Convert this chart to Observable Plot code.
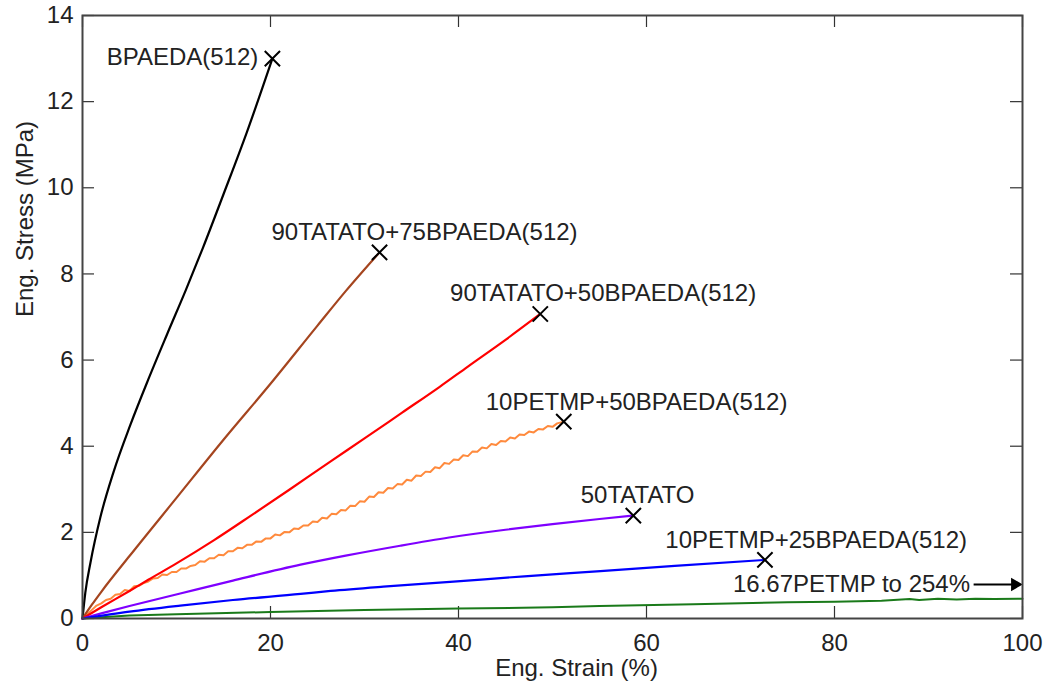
<!DOCTYPE html>
<html>
<head>
<meta charset="utf-8">
<script src="https://cdn.jsdelivr.net/npm/d3@7"></script>
<script src="https://cdn.jsdelivr.net/npm/@observablehq/plot@0.6"></script>
<style>
  html, body { margin: 0; padding: 0; background: #fff; }
  #chart svg { display: block; }
</style>
</head>
<body>
<div id="chart"></div>
<script>
// ---- data (strain %, stress MPa) ----
const bpaeda512 = [[0,0],[0.3,0.6],[0.85,1.3],[1.9,2.35],[3.3,3.4],[5.1,4.5],[7,5.55],[9,6.6],[11,7.63],[12.8,8.6],[15,9.85],[17.5,11.3],[20.2,13.0]];
const tatato90_bp75 = [[0,0],[1,0.32],[2,0.62],[5,1.45],[10,2.8],[15,4.15],[20,5.45],[25,6.8],[28,7.6],[31.6,8.5]];
const tatato90_bp50 = [[0,0],[2,0.26],[5,0.64],[7,0.9],[10,1.28],[14,1.82],[18,2.4],[22,2.99],[26.4,3.65],[30,4.18],[34,4.78],[38,5.38],[41,5.85],[45,6.47],[48.7,7.07]];
const petmp10_bp50 = [[0,0],[0.5,0.1],[1,0.2],[1.5,0.3],[2,0.35],[2.5,0.43],[3,0.46],[3.5,0.55],[4,0.57],[4.5,0.66],[5,0.64],[5.5,0.75],[6,0.76],[6.5,0.82],[7,0.86],[7.5,0.93],[8,0.94],[8.5,1.02],[9,1.01],[9.5,1.08],[10,1.08],[10.5,1.16],[11,1.16],[11.5,1.22],[12,1.24],[12.5,1.33],[13,1.32],[13.5,1.4],[14,1.4],[14.5,1.48],[15,1.47],[15.5,1.56],[16,1.56],[16.5,1.64],[17,1.63],[17.5,1.71],[18,1.71],[18.5,1.79],[19,1.78],[19.5,1.86],[20,1.86],[20.5,1.95],[21,1.93],[21.5,2.01],[22,2.0],[22.5,2.09],[23,2.08],[23.5,2.16],[24,2.16],[24.5,2.25],[25,2.24],[25.5,2.34],[26,2.32],[26.5,2.43],[27,2.42],[27.5,2.52],[28,2.51],[28.5,2.62],[29,2.61],[29.5,2.72],[30,2.71],[30.5,2.83],[31,2.82],[31.5,2.93],[32,2.92],[32.5,3.03],[33,3.02],[33.5,3.12],[34,3.11],[34.5,3.22],[35,3.2],[35.5,3.32],[36,3.31],[36.5,3.41],[37,3.4],[37.5,3.51],[38,3.49],[38.5,3.61],[39,3.59],[39.5,3.69],[40,3.68],[40.5,3.79],[41,3.77],[41.5,3.88],[42,3.87],[42.5,3.97],[43,3.95],[43.5,4.05],[44,4.03],[44.5,4.12],[45,4.11],[45.5,4.2],[46,4.18],[46.5,4.27],[47,4.26],[47.5,4.34],[48,4.32],[48.5,4.4],[49,4.39],[49.5,4.47],[50,4.45],[50.5,4.53],[51.2,4.57]];
const tatato50 = [[0,0],[2,0.12],[5,0.29],[10.4,0.58],[16,0.88],[23.2,1.25],[28,1.46],[33.8,1.69],[39,1.88],[45,2.06],[50,2.19],[55,2.31],[58.6,2.39]];
const petmp10_bp25 = [[0,0],[5,0.16],[10.4,0.3],[16,0.43],[23.2,0.57],[26.4,0.64],[32,0.74],[39.1,0.85],[47,0.98],[55.1,1.1],[63,1.22],[72.6,1.36]];
const petmp1667 = [[0,0],[2,0.03],[5,0.07],[10,0.1],[20,0.15],[30,0.2],[40,0.23],[50,0.26],[55,0.29],[65,0.33],[75,0.38],[80,0.39],[85,0.41],[88,0.45],[89,0.43],[91,0.46],[93,0.44],[95,0.46],[97,0.45],[100,0.46]];

const seriesNames = ["BPAEDA(512)","90TATATO+75BPAEDA(512)","90TATATO+50BPAEDA(512)","10PETMP+50BPAEDA(512)","50TATATO","10PETMP+25BPAEDA(512)","16.67PETMP"];
const seriesData = [bpaeda512, tatato90_bp75, tatato90_bp50, petmp10_bp50, tatato50, petmp10_bp25, petmp1667];
const seriesColors = ["#000000","#a5451f","#ff0000","#ff8a3d","#7f00ff","#0000ff","#1a7a1a"];
const smoothSeries = [true, true, true, false, true, true, false];

// failure points (X markers)
const breakStrain = [20.2, 31.6, 48.7, 51.2, 58.6, 72.6];
const breakStress = [13.0, 8.5, 7.07, 4.57, 2.39, 1.36];

// annotation labels
const labelText = ["BPAEDA(512)","90TATATO+75BPAEDA(512)","90TATATO+50BPAEDA(512)","10PETMP+50BPAEDA(512)","50TATATO","10PETMP+25BPAEDA(512)","16.67PETMP to 254%"];
const labelX = [18.7, 20.1, 39.1, 42.9, 53.0, 62.0, 69.2];
const labelY = [13.03, 8.96, 7.55, 5.02, 2.86, 1.81, 0.79];
const labelAnchor = ["end","start","start","start","start","start","start"];

const arrowFrom = [94.8, 0.79];
const arrowTo = [99.2, 0.79];

const xTicks = [0, 20, 40, 60, 80, 100];
const yTicks = [0, 2, 4, 6, 8, 10, 12, 14];

// ---- build ----
const smoothLines = [], roughLines = [];
seriesData.forEach((d, i) => d.forEach(([x, y]) => (smoothSeries[i] ? smoothLines : roughLines).push({series: seriesNames[i], x, y})));
const breaks = breakStrain.map((x, i) => ({x, y: breakStress[i]}));
const labels = labelText.map((t, i) => ({t, x: labelX[i], y: labelY[i], a: labelAnchor[i]}));

const W = 1050, H = 691;
const mL = 82, mR = 28, mT = 15, mB = 73;
const pw = W - mL - mR, ph = H - mT - mB;
const FONT = "'Liberation Sans', Arial, Helvetica, sans-serif";
const FS = 24;
const TXT = "#222";

const chart = Plot.plot({
  width: W, height: H,
  marginLeft: mL, marginRight: mR, marginTop: mT, marginBottom: mB,
  style: {fontFamily: FONT, fontSize: FS + "px", color: TXT, background: "#fff"},
  x: {domain: [0, 100]},
  y: {domain: [0, 14]},
  color: {domain: seriesNames, range: seriesColors},
  marks: [
    Plot.axisX({ticks: xTicks, tickSize: 0, tickPadding: 15, label: null, fontSize: FS, fill: TXT}),
    Plot.axisY({ticks: yTicks, tickSize: 0, tickPadding: 9, label: null, fontSize: FS, fill: TXT}),
    // inward ticks on all four sides
    Plot.ruleX(xTicks, {insetTop: ph - 12, stroke: "#333", strokeWidth: 1.2}),
    Plot.ruleX(xTicks, {insetBottom: ph - 12, stroke: "#333", strokeWidth: 1.2}),
    Plot.ruleY(yTicks, {insetRight: pw - 12, stroke: "#333", strokeWidth: 1.2}),
    Plot.ruleY(yTicks, {insetLeft: pw - 12, stroke: "#333", strokeWidth: 1.2}),
    Plot.line(roughLines, {x: "x", y: "y", z: "series", stroke: "series", strokeWidth: 2, curve: "linear"}),
    Plot.line(smoothLines, {x: "x", y: "y", z: "series", stroke: "series", strokeWidth: 2.2, curve: "monotone-x"}),
    Plot.dot(breaks, {x: "x", y: "y", symbol: "times", r: 7, stroke: "#000", strokeWidth: 2}),
    Plot.text(labels.filter(d => d.a === "end"), {x: "x", y: "y", text: "t", textAnchor: "end", fontSize: FS, fill: TXT}),
    Plot.text(labels.filter(d => d.a === "start"), {x: "x", y: "y", text: "t", textAnchor: "start", fontSize: FS, fill: TXT}),
    Plot.link([{x1: arrowFrom[0], y1: arrowFrom[1], x2: arrowTo[0], y2: arrowTo[1]}], {x1: "x1", y1: "y1", x2: "x2", y2: "y2", stroke: "#000", strokeWidth: 2}),
    Plot.dot([{x: arrowTo[0], y: arrowTo[1]}], {x: "x", y: "y", symbol: "triangle", r: 5, rotate: 90, fill: "#000", stroke: "none"}),
    Plot.text(["Eng. Strain (%)"], {frameAnchor: "bottom", text: d => d, dx: 24, dy: 50, fontSize: FS, fill: TXT, lineAnchor: "middle"}),
    Plot.text(["Eng. Stress (MPa)"], {frameAnchor: "left", text: d => d, rotate: -90, dx: -57, fontSize: FS, fill: TXT, lineAnchor: "middle"}),
    Plot.frame({stroke: "#444", strokeWidth: 2})
  ]
});
document.getElementById("chart").appendChild(chart);
</script>
</body>
</html>
